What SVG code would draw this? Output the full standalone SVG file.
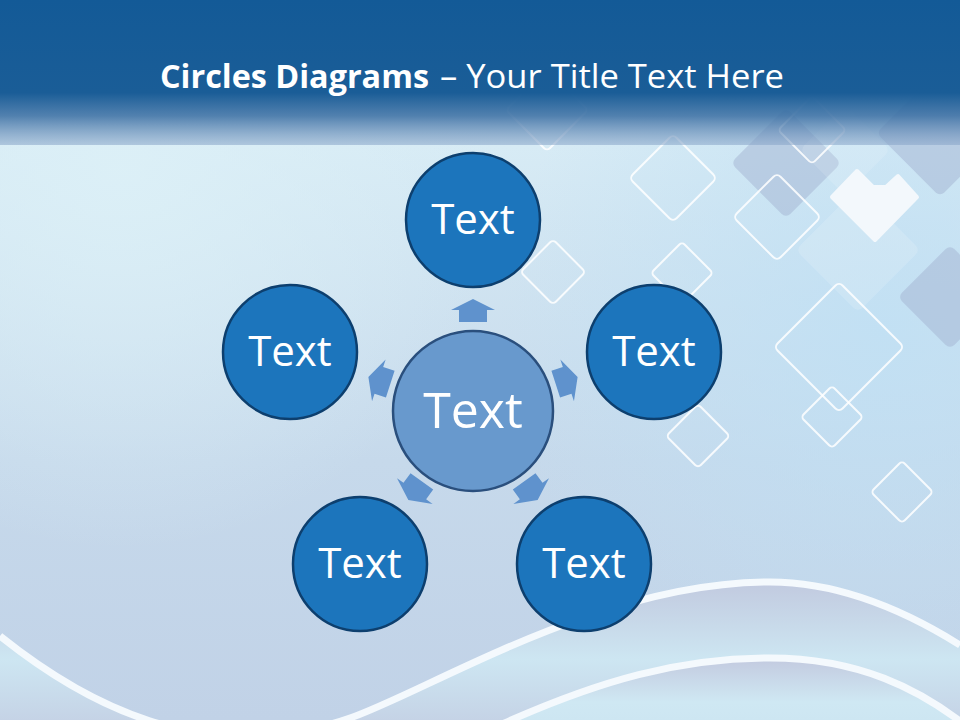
<svg xmlns="http://www.w3.org/2000/svg" width="960" height="720" viewBox="0 0 960 720">
<defs>
<linearGradient id="bg" x1="0" y1="145" x2="0" y2="720" gradientUnits="userSpaceOnUse">
<stop offset="0" stop-color="#d7ebf5"/>
<stop offset="0.55" stop-color="#c6d9eb"/>
<stop offset="1" stop-color="#c1d2e7"/>
</linearGradient>
<radialGradient id="rglow" cx="880" cy="330" r="380" gradientUnits="userSpaceOnUse">
<stop offset="0" stop-color="#c0e0f4" stop-opacity="0.85"/>
<stop offset="1" stop-color="#c0e0f4" stop-opacity="0"/>
</radialGradient>
<radialGradient id="tlglow" cx="120" cy="170" r="380" gradientUnits="userSpaceOnUse">
<stop offset="0" stop-color="#dcf0f7" stop-opacity="0.9"/>
<stop offset="1" stop-color="#dcf0f7" stop-opacity="0"/>
</radialGradient>
<linearGradient id="hdr" x1="0" y1="0" x2="0" y2="145" gradientUnits="userSpaceOnUse">
<stop offset="0" stop-color="#135a97"/>
<stop offset="0.64" stop-color="#1a5d97"/>
<stop offset="0.8" stop-color="#3f72a5" stop-opacity="0.88"/>
<stop offset="1" stop-color="#8aa6c9" stop-opacity="0.55"/>
</linearGradient>
<linearGradient id="wave1" x1="0" y1="585" x2="0" y2="720" gradientUnits="userSpaceOnUse">
<stop offset="0" stop-color="#c2cbe0"/>
<stop offset="0.55" stop-color="#cde6f2"/>
<stop offset="1" stop-color="#c5d3e6"/>
</linearGradient>
<linearGradient id="wave2" x1="0" y1="660" x2="0" y2="720" gradientUnits="userSpaceOnUse">
<stop offset="0" stop-color="#c3cbe0"/>
<stop offset="0.7" stop-color="#cfe8f3"/>
<stop offset="1" stop-color="#cde6f2"/>
</linearGradient>
<polygon id="arr" points="-12,-14 0,-14 0,-22 11,0 0,22 0,14 -12,14"/>
</defs>
<style>
.ol{fill:none;stroke:#ffffff;stroke-opacity:0.85;stroke-width:2}
.gf{fill:#a4b3d2;fill-opacity:0.5}
.outer{fill:#1c75bc;stroke:#0d3f6e;stroke-width:2.5}
.center{fill:#6899cd;stroke:#2a4f7d;stroke-width:2.5}
.lbl{font-family:"Open Sans","Noto Sans","DejaVu Sans",sans-serif;fill:#ffffff;text-anchor:middle}
.arrow{fill:#5f92cd}
</style>

<!-- background -->
<rect x="0" y="0" width="960" height="720" fill="url(#bg)"/>
<rect x="0" y="0" width="960" height="720" fill="url(#tlglow)"/>
<rect x="0" y="0" width="960" height="720" fill="url(#rglow)"/>

<!-- decorative filled diamonds -->
<g id="deco-filled">
<rect class="gf" x="-39" y="-39" width="78" height="78" rx="6" transform="translate(786,163) rotate(45)"/>
<rect class="gf" x="-45" y="-45" width="90" height="90" rx="6" transform="translate(940,133) rotate(45)" fill-opacity="0.42"/>
<rect class="gf" x="-37" y="-37" width="74" height="74" rx="6" transform="translate(950,297) rotate(45)"/>
<rect x="-44" y="-44" width="88" height="88" rx="6" transform="translate(858,250) rotate(45)" fill="#ffffff" fill-opacity="0.14"/>
<rect x="-32" y="-32" width="64" height="64" rx="6" transform="translate(845,150) rotate(45)" fill="#ffffff" fill-opacity="0.12"/>
<polygon points="832,197 857,171 873,187 886,187 898,176 917,197 875,240" fill="#f3f8fc" stroke="#f3f8fc" stroke-width="4" stroke-linejoin="round"/>
</g>

<!-- decorative outline diamonds -->
<g id="deco-outline">
<rect class="ol" x="-31" y="-31" width="62" height="62" rx="5" transform="translate(673,178) rotate(45)"/>
<rect class="ol" x="-31" y="-31" width="62" height="62" rx="5" transform="translate(777,217) rotate(45)"/>
<rect class="ol" x="-22" y="-22" width="44" height="44" rx="4" transform="translate(682,273) rotate(45)"/>
<rect class="ol" x="-46" y="-46" width="92" height="92" rx="5" transform="translate(839,347) rotate(45)"/>
<rect class="ol" x="-22" y="-22" width="44" height="44" rx="4" transform="translate(832,417) rotate(45)"/>
<rect class="ol" x="-22.5" y="-22.5" width="45" height="45" rx="4" transform="translate(698,436) rotate(45)"/>
<rect class="ol" x="-22" y="-22" width="44" height="44" rx="4" transform="translate(902,492) rotate(45)"/>
<rect class="ol" x="-23" y="-23" width="46" height="46" rx="4" transform="translate(553,272) rotate(45)"/>
<rect class="ol" x="-29" y="-29" width="58" height="58" rx="4" transform="translate(547,110) rotate(45)"/>
<rect class="ol" x="-24" y="-24" width="48" height="48" rx="4" transform="translate(812,130) rotate(45)" stroke-opacity="0.5"/>
</g>

<!-- header band -->
<rect x="0" y="0" width="960" height="145" fill="url(#hdr)"/>

<!-- bottom waves -->
<g id="waves">
<path d="M0,636 C80,700 200,770 350,718 C430,690 600,582 770,582 C850,582 920,620 960,645 L960,720 L0,720 Z" fill="url(#wave1)"/>
<path d="M500,725 C600,680 680,658 770,658 C860,658 920,690 965,725 Z" fill="url(#wave2)"/>
<path d="M0,636 C80,700 200,770 350,718 C430,690 600,582 770,582 C850,582 920,620 960,645" fill="none" stroke="#f4f9fd" stroke-width="7"/>
<path d="M500,725 C600,680 680,658 770,658 C860,658 920,690 965,725" fill="none" stroke="#f4f9fd" stroke-width="7"/>
</g>

<!-- title -->
<g id="title" font-family="'Open Sans','Noto Sans','DejaVu Sans',sans-serif" fill="#ffffff">
<text x="160" y="88" font-size="33" font-weight="bold" textLength="269" lengthAdjust="spacingAndGlyphs">Circles Diagrams</text>
<text x="440" y="88" font-size="33" textLength="344" lengthAdjust="spacingAndGlyphs">– Your Title Text Here</text>
</g>

<!-- connectors -->
<g id="connectors" class="arrow">
<use href="#arr" transform="translate(473,411) rotate(-90) translate(101,0)"/>
<use href="#arr" transform="translate(473,411) rotate(-18) translate(99,0)"/>
<use href="#arr" transform="translate(473,411) rotate(54) translate(99,0)"/>
<use href="#arr" transform="translate(473,411) rotate(126) translate(99,0)"/>
<use href="#arr" transform="translate(473,411) rotate(198) translate(99,0)"/>
</g>

<!-- nodes -->
<g id="node-center">
<circle class="center" cx="473" cy="411" r="80"/>
<text class="lbl" x="473" y="428" font-size="50">Text</text>
</g>
<g id="node-top">
<circle class="outer" cx="473" cy="220" r="67"/>
<text class="lbl" x="473" y="234" font-size="42">Text</text>
</g>
<g id="node-right">
<circle class="outer" cx="654" cy="352" r="67"/>
<text class="lbl" x="654" y="366" font-size="42">Text</text>
</g>
<g id="node-bottom-right">
<circle class="outer" cx="584" cy="564" r="67"/>
<text class="lbl" x="584" y="578" font-size="42">Text</text>
</g>
<g id="node-bottom-left">
<circle class="outer" cx="360" cy="564" r="67"/>
<text class="lbl" x="360" y="578" font-size="42">Text</text>
</g>
<g id="node-left">
<circle class="outer" cx="290" cy="352" r="67"/>
<text class="lbl" x="290" y="366" font-size="42">Text</text>
</g>
</svg>
